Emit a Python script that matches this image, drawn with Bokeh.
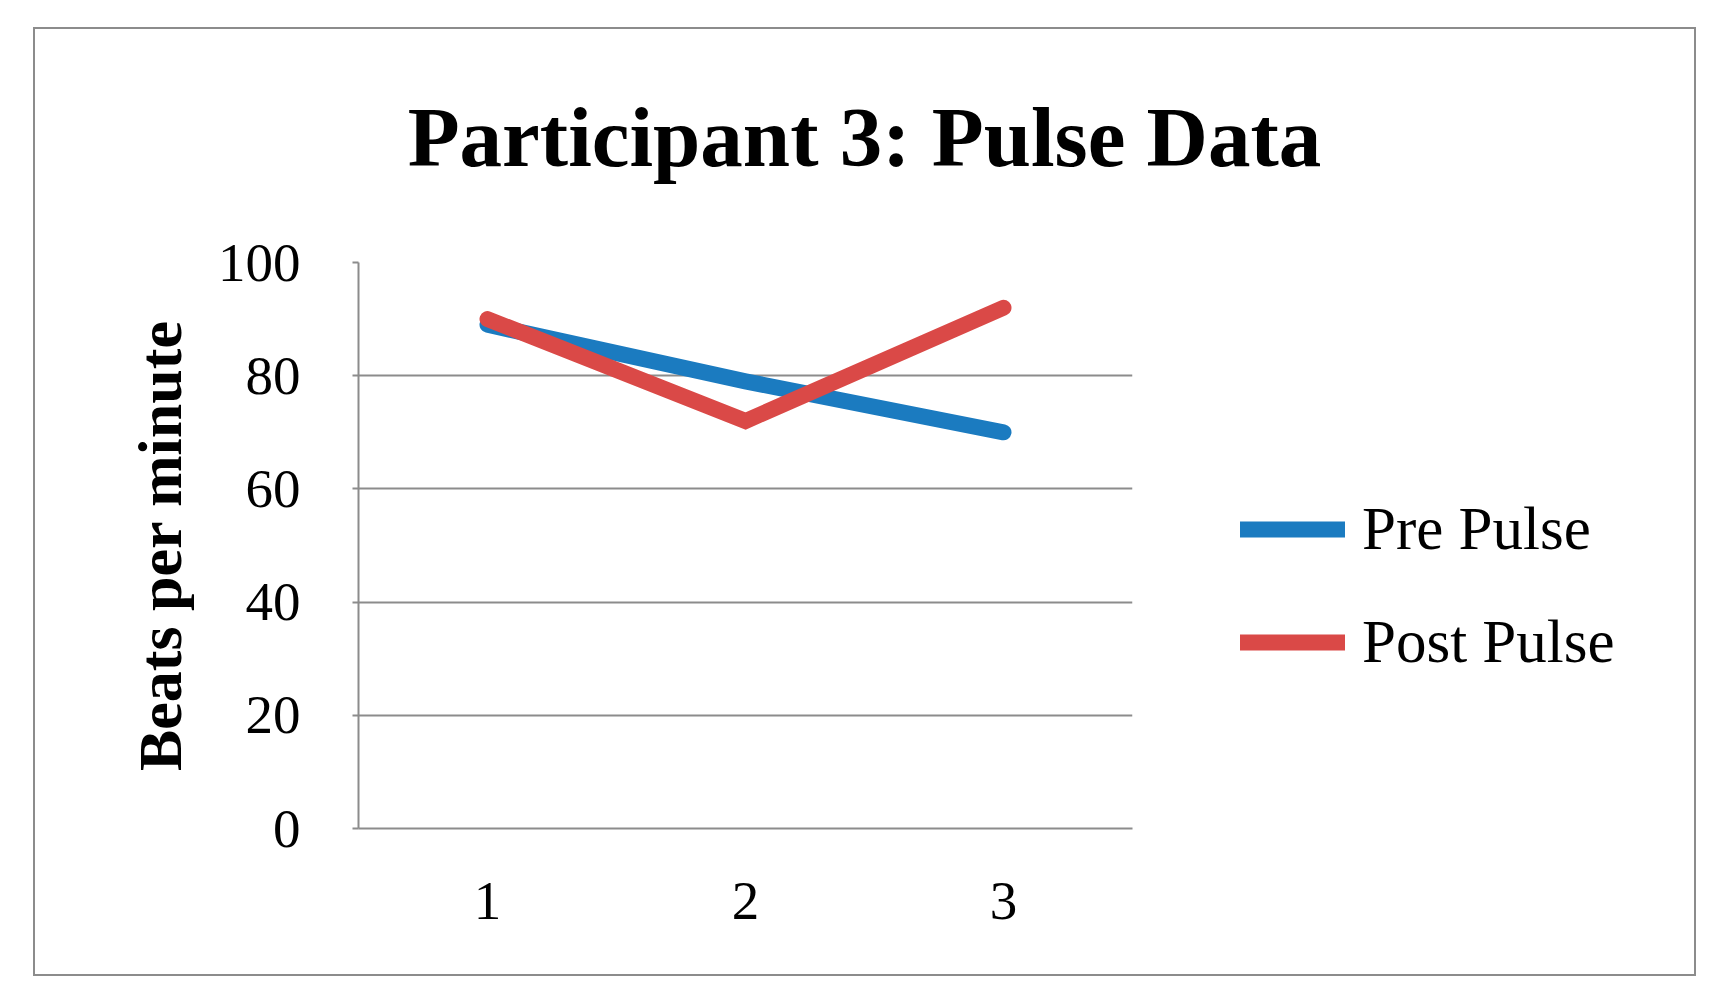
from bokeh.plotting import figure
from bokeh.layouts import column, row
from bokeh.models import Legend, LegendItem, FixedTicker, Label
from bokeh.embed import file_html
from bokeh.resources import INLINE

# ---- data ----
trials = [1, 2, 3]
pre_pulse = [89, 79, 70]
post_pulse = [90, 72, 92]
y_ticks = [0, 20, 40, 60, 80, 100]
title_text = "Participant 3: Pulse Data"
y_label = "Beats per minute"
series_names = ["Pre Pulse", "Post Pulse"]

SERIF = "Liberation Serif"
GRAY = "#8c8c8c"
BLUE = "#1b7bc0"
RED = "#da4947"
LINE_W = 16


def blank(fig):
    fig.outline_line_color = None
    fig.background_fill_color = "white"
    fig.border_fill_color = "white"
    fig.xgrid.visible = False
    fig.ygrid.visible = False


# ---- title strip ----
p_title = figure(width=1659, height=200, output_backend="svg",
                 toolbar_location=None, x_range=(0, 1659), y_range=(0, 200),
                 x_axis_location=None, y_axis_location=None, min_border=0)
blank(p_title)
p_title.add_layout(Label(x=829, y=92.5, text=title_text, text_font=SERIF,
                         text_font_style="bold", text_font_size="85px",
                         text_color="black", text_align="center",
                         text_baseline="alphabetic"))

# ---- main chart ----
p = figure(width=1102, height=745, output_backend="svg",
           toolbar_location=None, x_range=(0.5, 3.5), y_range=(0, 100),
           min_border_left=323, min_border_right=5,
           min_border_top=33, min_border_bottom=146)
p.outline_line_color = None
p.background_fill_color = "white"
p.border_fill_color = "white"

p.xaxis.ticker = FixedTicker(ticks=trials)
p.xaxis.major_tick_line_color = None
p.xaxis.minor_tick_line_color = None
p.xaxis.axis_line_color = GRAY
p.xaxis.axis_line_width = 2
p.xaxis.major_label_text_font = SERIF
p.xaxis.major_label_text_font_size = "55px"
p.xaxis.major_label_text_color = "black"
p.xaxis.major_label_standoff = 48

p.yaxis.ticker = FixedTicker(ticks=y_ticks)
p.yaxis.minor_tick_line_color = None
p.yaxis.major_tick_in = 0
p.yaxis.major_tick_out = 6
p.yaxis.major_tick_line_color = GRAY
p.yaxis.major_tick_line_width = 2
p.yaxis.axis_line_color = GRAY
p.yaxis.axis_line_width = 2
p.yaxis.major_label_text_font = SERIF
p.yaxis.major_label_text_font_size = "55px"
p.yaxis.major_label_text_color = "black"
p.yaxis.major_label_standoff = 52
p.yaxis.axis_label = y_label
p.yaxis.axis_label_text_font = SERIF
p.yaxis.axis_label_text_font_style = "bold"
p.yaxis.axis_label_text_font_size = "62px"
p.yaxis.axis_label_text_color = "black"
p.yaxis.axis_label_standoff = 21

p.xgrid.visible = False
p.ygrid.ticker = FixedTicker(ticks=y_ticks)
p.ygrid.grid_line_color = GRAY
p.ygrid.grid_line_width = 2

p.line(trials, pre_pulse, line_color=BLUE, line_width=LINE_W,
       line_cap="round", line_join="miter")
p.line(trials, post_pulse, line_color=RED, line_width=LINE_W,
       line_cap="round", line_join="miter")

# ---- legend strip (same series, drawn outside its own view; only the
# legend keys show) ----
p_leg = figure(width=557, height=745, output_backend="svg",
               toolbar_location=None, x_range=(0, 1), y_range=(0, 1),
               x_axis_location=None, y_axis_location=None, min_border=0)
blank(p_leg)
k_pre = p_leg.line(trials, pre_pulse, line_color=BLUE, line_width=LINE_W,
                   line_cap="round")
k_post = p_leg.line(trials, post_pulse, line_color=RED, line_width=LINE_W,
                    line_cap="round")
legend = Legend(items=[LegendItem(label=series_names[0], renderers=[k_pre]),
                       LegendItem(label=series_names[1], renderers=[k_post])],
                location=(103, 151), margin=0, padding=0, spacing=43,
                glyph_width=105, glyph_height=40, label_height=40,
                label_standoff=17, border_line_color=None,
                background_fill_alpha=0,
                label_text_font=SERIF, label_text_font_size="61px",
                label_text_color="black")
p_leg.add_layout(legend, "center")

box = column(p_title, row(p, p_leg), margin=(27, 0, 0, 33),
             styles={"border": "2px solid #8c8c8c",
                     "background-color": "white"})

open("out.html", "w").write(file_html(box, INLINE))
